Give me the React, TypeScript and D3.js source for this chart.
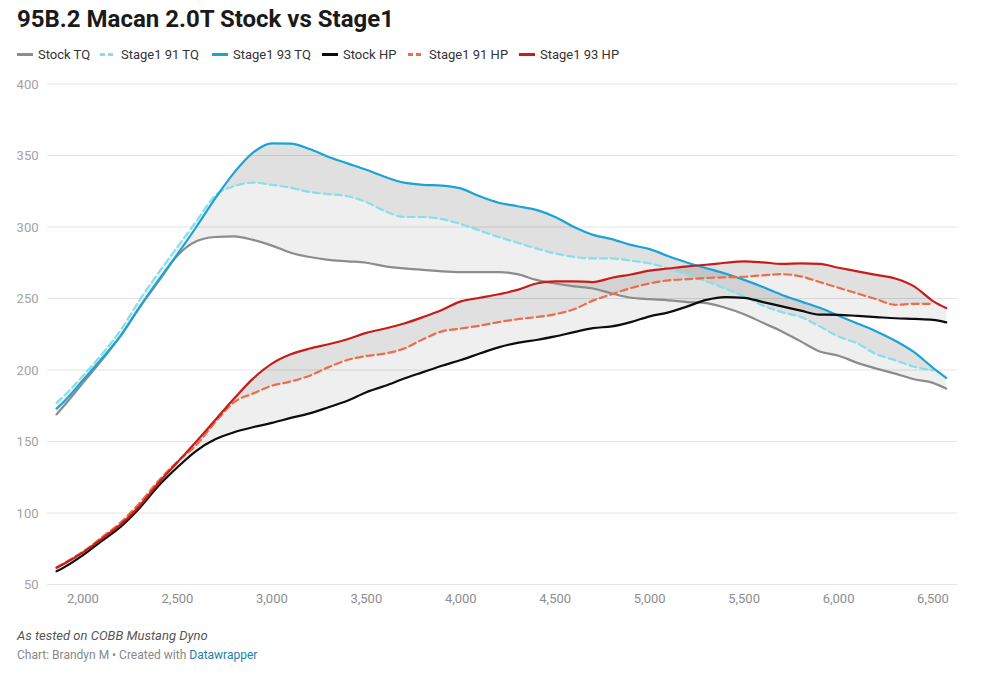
import React from 'react';
import * as d3 from 'd3';

// engine speed (rpm) of every sample
const rpm = [
  1860, 1900, 2000, 2100, 2200, 2300, 2400, 2500, 2600, 2700, 2800, 2900, 3000, 3100, 3200, 3300,
  3400, 3500, 3600, 3700, 3800, 3900, 4000, 4100, 4200, 4300, 4400, 4500, 4600, 4700, 4800, 4900,
  5000, 5100, 5200, 5300, 5400, 5500, 5600, 5700, 5800, 5900, 6000, 6100, 6200, 6300, 6400, 6500, 6570,
];

const stockTQ = [
  169, 175, 191, 207, 224, 244, 262, 280, 290, 293, 293.5, 291, 287, 282, 279, 277,
  276, 275, 272.5, 271, 270, 269, 268.5, 268.5, 268.5, 267, 263, 260.5, 258.5, 257, 253.5, 250.5,
  249.5, 248.7, 247.5, 246.8, 243.5, 239, 233, 227, 220, 213, 210, 205, 201, 197.5, 193.5, 191, 187,
];

const stage91TQ: (number | null)[] = [
  177, 182, 196, 211, 228, 249, 268, 286, 304, 322, 328.5, 331, 329.5, 327.5, 324.5, 323,
  321.5, 317.5, 311, 307, 307, 305.5, 302, 297.5, 293, 289, 285, 281.5, 279, 278, 278, 276.5,
  274.5, 271, 266.5, 262, 257, 251.5, 245, 240.5, 237, 230.5, 223.5, 218.5, 211, 206.8, 202.3, 199.7, null,
];

const stage93TQ = [
  173, 178, 193, 208, 224, 244, 263, 281, 300, 320, 338, 352, 358.5, 358.3, 354.5, 349,
  344.5, 340, 335, 331, 329.5, 329, 327, 321.5, 317, 314.5, 312, 307, 300, 294.5, 291.5, 287.5,
  284.5, 279.5, 275, 271.2, 267.5, 263, 258, 252.5, 248, 243.5, 238, 232.5, 227, 220.5, 212.5, 201.5, 194.5,
];

const stockHP = [
  59.3, 62, 70.5, 80.5, 90.5, 103.5, 119, 132, 143.5, 151.5, 156.5, 160, 163, 166.5, 169.7, 174,
  178.5, 184.5, 189, 194, 198.5, 203, 207, 211.5, 215.8, 219, 221, 223.5, 226.5, 229.3, 230.5, 233.5,
  237.5, 240.3, 244.5, 249, 251, 250.5, 247.5, 244.5, 241.5, 238.7, 238.6, 237.8, 237, 236.2, 235.7, 235.1, 233.3,
];

const stage91HP: (number | null)[] = [
  62, 65, 73, 83, 93.5, 107, 122.5, 136, 147.5, 163.5, 177.5, 183.5, 189, 192, 196, 202,
  207, 209.8, 211.5, 215, 221.5, 227, 229, 231, 233.5, 235.5, 237, 239, 242.5, 248.5, 253, 257.3,
  260.5, 262.7, 263.5, 264.3, 264.8, 265.2, 266.2, 267, 265.5, 261.5, 257.5, 253.5, 249.5, 245.6, 246.3, 246.3, null,
];

const stage93HP = [
  61.7, 64.5, 72.5, 82, 92, 105, 121, 135.5, 150, 165, 180, 194, 204.5, 211, 215, 218,
  221.5, 226, 229, 232.5, 237, 242, 248, 250.5, 253, 256, 260.5, 262, 262, 261.5, 264.5, 266.8,
  269.5, 271, 272.5, 273.6, 275, 276, 275.3, 274.2, 274.5, 274.2, 271.5, 269, 266.5, 264, 258.5, 248.2, 243.3,
];

const yTicks = [50, 100, 150, 200, 250, 300, 350, 400];
const xTicks = [2000, 2500, 3000, 3500, 4000, 4500, 5000, 5500, 6000, 6500];

const seriesNames = ['Stock TQ', 'Stage1 91 TQ', 'Stage1 93 TQ', 'Stock HP', 'Stage1 91 HP', 'Stage1 93 HP'];
const seriesValues = [stockTQ, stage91TQ, stage93TQ, stockHP, stage91HP, stage93HP];
const seriesColors = ['#8c8c8c', '#86e0ec', '#1ba3d6', '#0d0d0d', '#ec6d4c', '#c71d1a'];
const seriesDashed = [false, true, false, false, true, false];

// layout
const W = 982;
const H = 680;
const gridLeft = 47;
const gridRight = 957;
const legendX = [17, 100, 212, 322, 408, 519];
const font = 'Roboto, "Noto Sans", sans-serif';

const x = d3.scaleLinear().domain([2000, 6500]).range([83, 933]);
const y = d3.scaleLinear().domain([50, 400]).range([584.5, 84]);

const idx = rpm.map((_, i) => i);

const makeLine = (vals: (number | null)[]) =>
  d3.line<number>()
    .defined(i => vals[i] != null)
    .x(i => x(rpm[i]))
    .y(i => y(vals[i] as number))
    .curve(d3.curveMonotoneX)(idx) || '';

const makeArea = (lo: (number | null)[], hi: (number | null)[]) =>
  d3.area<number>()
    .defined(i => lo[i] != null && hi[i] != null)
    .x(i => x(rpm[i]))
    .y0(i => y(lo[i] as number))
    .y1(i => y(hi[i] as number))
    .curve(d3.curveMonotoneX)(idx) || '';

export default function App() {
  const bands = [
    makeArea(stockTQ, stage93TQ),
    makeArea(stage91TQ, stage93TQ),
    makeArea(stockHP, stage93HP),
    makeArea(stage91HP, stage93HP),
  ];

  return (
    <svg
      width={W}
      height={H}
      style={{ position: 'absolute', left: 0, top: 0, background: '#fff' }}
      fontFamily={font}
    >
      <text x={17} y={27} fontSize={24} fontWeight={700} fill="#1a1a1a">
        95B.2 Macan 2.0T Stock vs Stage1
      </text>

      {/* legend */}
      {seriesNames.map((name, i) => (
        <g key={name}>
          <line
            x1={legendX[i]}
            x2={legendX[i] + 16}
            y1={54.5}
            y2={54.5}
            stroke={seriesColors[i]}
            strokeWidth={3}
            strokeDasharray={seriesDashed[i] ? '5,3' : undefined}
          />
          <text x={legendX[i] + 21} y={59} fontSize={13} fill="#333">
            {name}
          </text>
        </g>
      ))}

      {/* grid + y axis */}
      {yTicks.map(t => (
        <g key={t}>
          <line x1={gridLeft} x2={gridRight} y1={y(t)} y2={y(t)} stroke="#e4e4e4" strokeWidth={1} />
          <text x={38.5} y={y(t) + 4.5} fontSize={13} fill="#a3a3a3" textAnchor="end">
            {t}
          </text>
        </g>
      ))}

      {/* x axis labels */}
      {xTicks.map(t => (
        <text key={t} x={x(t)} y={603} fontSize={13} fill="#8e8e8e" textAnchor="middle">
          {d3.format(',')(t)}
        </text>
      ))}

      {/* shaded ranges */}
      {bands.map((d, i) => (
        <path key={i} d={d} fill="#000" fillOpacity={0.062} stroke="none" />
      ))}

      {/* lines */}
      {seriesValues.map((vals, i) => (
        <path
          key={seriesNames[i]}
          d={makeLine(vals)}
          fill="none"
          stroke={seriesColors[i]}
          strokeWidth={2.2}
          strokeDasharray={seriesDashed[i] ? '7,4' : undefined}
          strokeLinejoin="round"
          strokeLinecap="round"
        />
      ))}

      <text x={17} y={640} fontSize={13} fontStyle="italic" fill="#555">
        As tested on COBB Mustang Dyno
      </text>
      <text x={17} y={659} fontSize={12} fill="#888">
        Chart: Brandyn M • Created with <tspan fill="#1d81a2">Datawrapper</tspan>
      </text>
    </svg>
  );
}
